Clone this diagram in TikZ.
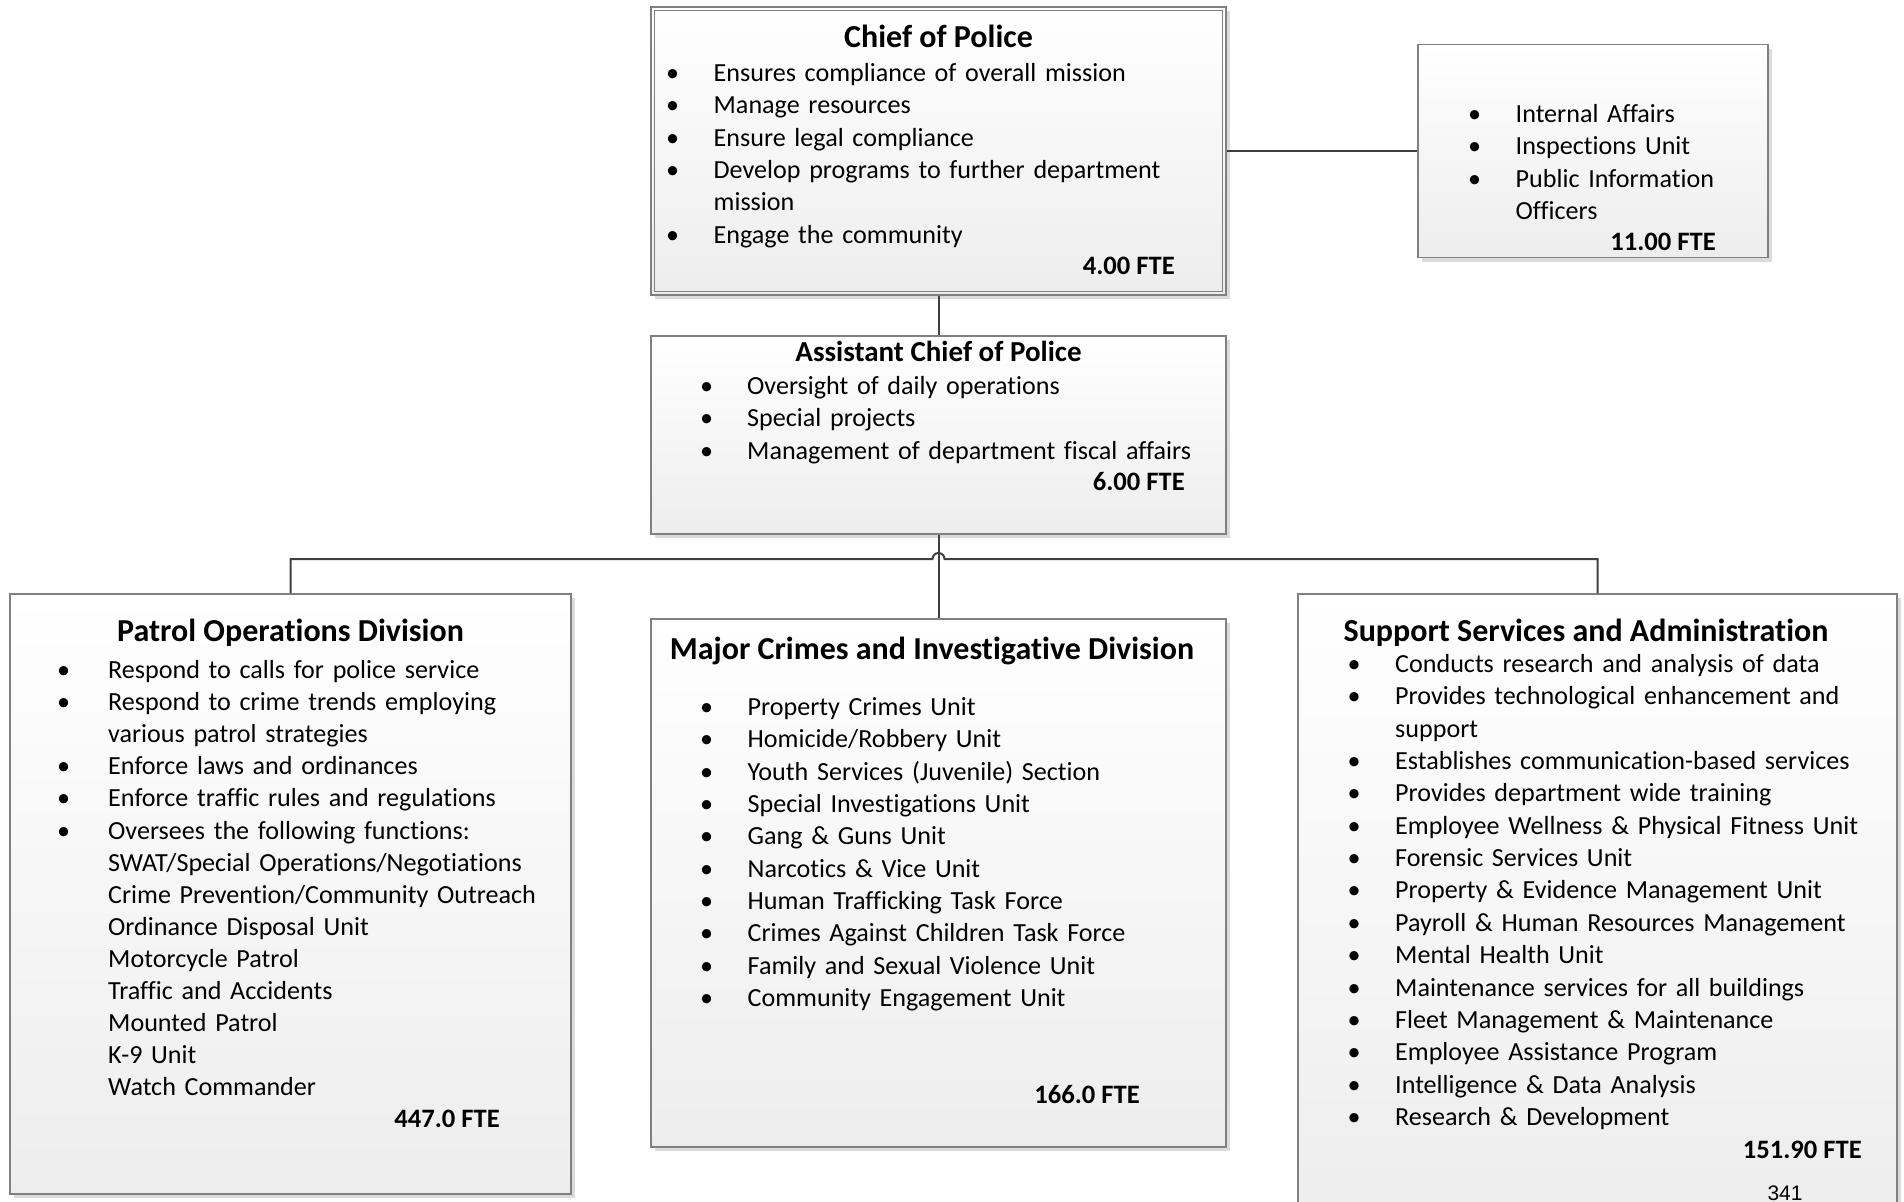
\documentclass[tikz,border=0pt]{standalone}
\usepackage{fontspec}
\setmainfont{Carlito}[Ligatures={NoCommon}]
\newfontfamily\pagefont{Liberation Sans}
\usetikzlibrary{shadows}
\newlength\bulw
\setlength\bulw{47.5pt}
\newcommand\bul{\makebox[\bulw][l]{\textbullet}}
\newcommand\cont{\hspace*{\bulw}}
\begin{document}
\begin{tikzpicture}[x=1pt, y=-1pt,
      unit/.style={draw=black!50, line width=1.3pt, top color=white, bottom color=black!7, inner sep=0pt,
        drop shadow={shadow xshift=4pt, shadow yshift=-4pt, fill=black!14, opacity=1}},
      body/.style={anchor=base west, inner sep=0pt, align=left, text width=560pt,
        font=\fontsize{26.1}{32.35}\selectfont},
      ttl/.style={anchor=base, inner sep=0pt, font=\bfseries\fontsize{32}{38}\selectfont},
      fte/.style={anchor=base east, inner sep=0pt, font=\bfseries\fontsize{26.6}{32}\selectfont},
      link/.style={draw=black!75, line width=2pt}]
    % one unit = one pixel of the 1904 x 1202 page, y grows downwards
    \useasboundingbox (0,0) rectangle (1904,1202);
    \fill[white] (0,0) rectangle (1904,1202);
    \node[unit, minimum width=575pt, minimum height=288pt] (chief) at (938.5,151) {};
    \draw[black!50, line width=1.3pt] ([shift={(4pt,-4pt)}]chief.north west) rectangle ([shift={(-4pt,4pt)}]chief.south east);
    \node[unit, minimum width=350pt, minimum height=213pt] (ia) at (1593,151) {};
    \node[unit, minimum width=575pt, minimum height=198pt] (asst) at (938.5,435) {};
    \node[unit, minimum width=561pt, minimum height=600pt] (patrol) at (290.5,894) {};
    \node[unit, minimum width=575pt, minimum height=528pt] (major) at (938.5,883) {};
    \node[unit, minimum width=599pt, minimum height=621pt] (support) at (1597.5,904.5) {};
    % chief of police
    \node[ttl] (chief-t) at (938.5,47) {Chief of Police};
    \node[body] (chief-l) at (666,81.5) {\bul Ensures compliance of overall mission\\
      \bul Manage resources\\
      \bul Ensure legal compliance\\
      \bul Develop programs to further department\\
      \cont mission\\
      \bul Engage the community};
    \node[fte] (chief-f) at (1175,274) {4.00 FTE};
    % units beside the chief
    \node[body] (ia-l) at (1468,122.5) {\bul Internal Affairs\\
      \bul Inspections Unit\\
      \bul Public Information\\
      \cont Officers};
    \node[fte] (ia-f) at (1716,250) {11.00 FTE};
    % assistant chief
    \node[ttl, font=\bfseries\fontsize{29}{35}\selectfont] (asst-t) at (938.5,361) {Assistant Chief of Police};
    \node[body] (asst-l) at (700,394.5) {\setlength\bulw{47pt}\bul Oversight of daily operations\\
      \bul Special projects\\
      \bul Management of department fiscal affairs};
    \node[fte] (asst-f) at (1185,490) {6.00 FTE};
    % patrol
    \node[ttl] (patrol-t) at (290.5,641) {Patrol Operations Division};
    \node[body, font=\fontsize{26.1}{32.1}\selectfont] (patrol-l) at (57,678.5) {\setlength\bulw{51pt}\bul Respond to calls for police service\\
      \bul Respond to crime trends employing\\
      \cont various patrol strategies\\
      \bul Enforce laws and ordinances\\
      \bul Enforce traffic rules and regulations\\
      \bul Oversees the following functions:\\
      \cont SWAT/Special Operations/Negotiations\\
      \cont Crime Prevention/Community Outreach\\
      \cont Ordinance Disposal Unit\\
      \cont Motorcycle Patrol\\
      \cont Traffic and Accidents\\
      \cont Mounted Patrol\\
      \cont K-9 Unit\\
      \cont Watch Commander};
    \node[fte] (patrol-f) at (500,1127) {447.0 FTE};
    % major crimes
    \node[ttl] (major-t) at (932,659) {Major Crimes and Investigative Division};
    \node[body] (major-l) at (700,715.5) {\bul Property Crimes Unit\\
      \bul Homicide/Robbery Unit\\
      \bul Youth Services (Juvenile) Section\\
      \bul Special Investigations Unit\\
      \bul Gang \& Guns Unit\\
      \bul Narcotics \& Vice Unit\\
      \bul Human Trafficking Task Force\\
      \bul Crimes Against Children Task Force\\
      \bul Family and Sexual Violence Unit\\
      \bul Community Engagement Unit};
    \node[fte] (major-f) at (1140,1103) {166.0 FTE};
    % support services
    \node[ttl] (support-t) at (1586,641) {Support Services and Administration};
    \node[body] (support-l) at (1347.5,672.5) {\bul Conducts research and analysis of data\\
      \bul Provides technological enhancement and\\
      \cont support\\
      \bul Establishes communication-based services\\
      \bul Provides department wide training\\
      \bul Employee Wellness \& Physical Fitness Unit\\
      \bul Forensic Services Unit\\
      \bul Property \& Evidence Management Unit\\
      \bul Payroll \& Human Resources Management\\
      \bul Mental Health Unit\\
      \bul Maintenance services for all buildings\\
      \bul Fleet Management \& Maintenance\\
      \bul Employee Assistance Program\\
      \bul Intelligence \& Data Analysis\\
      \bul Research \& Development};
    \node[fte] (support-f) at (1862,1158) {151.90 FTE};
    \node[anchor=base, inner sep=0pt, font=\pagefont\fontsize{21}{25}\selectfont] (pgno) at (1785,1200) {341};
    % connectors
    \coordinate (bus) at (938.5,559);
    \draw[link] (chief.east) -- (ia.west);
    \draw[link] (chief.south) -- (asst.north);
    \draw[link] (asst.south) -- (major.north);
    \draw[link] (patrol.north) -- (patrol.north |- bus) -- ([xshift=-6pt]bus)
      arc[start angle=180, end angle=0, radius=6pt] -- (support.north |- bus) -- (support.north);
  \end{tikzpicture}
\end{document}
